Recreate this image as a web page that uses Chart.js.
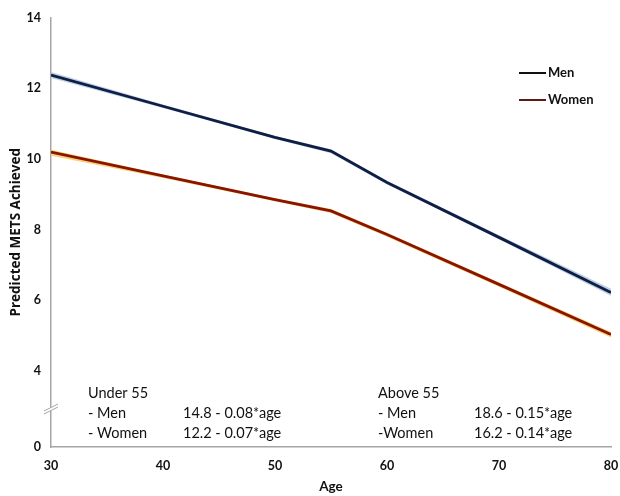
<!DOCTYPE html>
<html>
<head>
<meta charset="utf-8">
<script src="https://cdn.jsdelivr.net/npm/chart.js@4/dist/chart.umd.min.js"></script>
<style>
  body { margin: 0; background: #fff; }
  #wrap { width: 620px; height: 496px; }
</style>
</head>
<body>
<div id="wrap"><canvas id="metsChart"></canvas></div>
<script>
const ages = [30, 40, 50, 55, 60, 70, 80];
const menMets = [12.37, 11.49, 10.61, 10.22, 9.33, 7.78, 6.22];
const menUpper = [12.46, 11.54, 10.65, 10.27, 9.38, 7.84, 6.33];
const menLower = [12.29, 11.44, 10.56, 10.16, 9.28, 7.73, 6.13];
const womenMets = [10.19, 9.52, 8.85, 8.53, 7.86, 6.45, 5.03];
const womenUpper = [10.26, 9.56, 8.89, 8.58, 7.91, 6.5, 5.1];
const womenLower = [10.09, 9.46, 8.8, 8.47, 7.8, 6.38, 4.95];

const xTicks = [30, 40, 50, 60, 70, 80];
// y axis is broken: the bottom tick stands for 0
const yTicks = [1.85, 4, 6, 8, 10, 12, 14];
const yTickLabels = ['0', '4', '6', '8', '10', '12', '14'];

const legendNames = ['Men', 'Women'];
const legendColors = ['#111111', '#5b1a12'];

const notes = [
    { text: 'Under 55', x: 88, y: 393 },
    { text: '- Men', x: 88, y: 413 },
    { text: '14.8 - 0.08*age', x: 183, y: 413 },
    { text: '- Women', x: 88, y: 433 },
    { text: '12.2 - 0.07*age', x: 183, y: 433 },
    { text: 'Above 55', x: 378, y: 393 },
    { text: '- Men', x: 378, y: 413 },
    { text: '18.6 - 0.15*age', x: 474, y: 413 },
    { text: '-Women', x: 378, y: 433 },
    { text: '16.2 - 0.14*age', x: 474, y: 433 }
];

const FONT = 'Lato, "Open Sans", sans-serif';

function pts(vals) {
    return ages.map((a, i) => ({ x: a, y: vals[i] }));
}

const extras = {
    id: 'extras',
    afterDraw(chart) {
        const c = chart.ctx;
        const area = chart.chartArea;
        c.save();

        // axis break
        const by = 408;
        c.fillStyle = '#fff';
        c.beginPath();
        c.moveTo(area.left - 7, by + 3);
        c.lineTo(area.left + 7, by - 4);
        c.lineTo(area.left + 7, by - 1);
        c.lineTo(area.left - 7, by + 6);
        c.closePath();
        c.fill();
        c.strokeStyle = '#a6a6a6';
        c.lineWidth = 1;
        c.beginPath();
        c.moveTo(area.left - 7, by + 3);
        c.lineTo(area.left + 7, by - 4);
        c.moveTo(area.left - 7, by + 6);
        c.lineTo(area.left + 7, by - 1);
        c.stroke();

        // legend
        c.font = 'bold 13px ' + FONT;
        c.textBaseline = 'middle';
        legendNames.forEach((name, i) => {
            const ly = 73 + i * 27;
            c.strokeStyle = legendColors[i];
            c.lineWidth = 2;
            c.beginPath();
            c.moveTo(519, ly);
            c.lineTo(546, ly);
            c.stroke();
            c.fillStyle = '#111';
            c.fillText(name, 548, ly);
        });

        // equations
        c.font = '14.5px ' + FONT;
        c.fillStyle = '#111';
        notes.forEach(n => c.fillText(n.text, n.x, n.y));
        c.restore();
    }
};

new Chart(document.getElementById('metsChart'), {
    type: 'line',
    data: {
        datasets: [
            { label: 'menUpper', data: pts(menUpper), borderWidth: 0, pointRadius: 0, fill: false, order: 3 },
            { label: 'menLower', data: pts(menLower), borderWidth: 0, pointRadius: 0, fill: '-1', backgroundColor: '#b9cfe4', order: 3 },
            { label: 'womenUpper', data: pts(womenUpper), borderWidth: 0, pointRadius: 0, fill: false, order: 3 },
            { label: 'womenLower', data: pts(womenLower), borderWidth: 0, pointRadius: 0, fill: '-1', backgroundColor: '#f6d27e', order: 3 },
            { label: 'Men', data: pts(menMets), borderColor: '#101d44', borderWidth: 2.8, pointRadius: 0, fill: false, order: 1 },
            { label: 'Women', data: pts(womenMets), borderColor: '#8a1400', borderWidth: 2.8, pointRadius: 0, fill: false, order: 1 }
        ]
    },
    options: {
        responsive: true,
        maintainAspectRatio: false,
        animation: false,
        layout: { padding: { top: 10, right: 9, left: 0, bottom: 0 } },
        plugins: {
            legend: { display: false },
            tooltip: { enabled: false }
        },
        scales: {
            x: {
                type: 'linear',
                min: 30,
                max: 80,
                afterBuildTicks: s => { s.ticks = xTicks.map(v => ({ value: v })); },
                afterFit: s => { s.height = 49; s.paddingLeft = 0; s.paddingRight = 0; },
                grid: { display: false, drawTicks: false },
                border: { color: '#a6a6a6', width: 1.5 },
                ticks: { padding: 11, color: '#111', font: { family: FONT, size: 12.5, weight: 'bold' } },
                title: { display: true, text: 'Age', color: '#111', padding: { top: 4, bottom: 1 }, font: { family: FONT, size: 13.5, weight: 'bold' } }
            },
            y: {
                type: 'linear',
                min: yTicks[0],
                max: 14,
                afterBuildTicks: s => { s.ticks = yTicks.map(v => ({ value: v })); },
                afterFit: s => { s.width = 51; },
                grid: { display: false, drawTicks: false },
                border: { color: '#a6a6a6', width: 1.5 },
                ticks: {
                    padding: 10,
                    color: '#111',
                    font: { family: FONT, size: 12.5, weight: 'bold' },
                    callback: (v, i) => yTickLabels[i]
                },
                title: { display: true, text: 'Predicted METS Achieved', color: '#111', padding: { top: 8, bottom: 2 }, font: { family: '"Open Sans", sans-serif', size: 13.5, weight: 'bold' } }
            }
        }
    },
    plugins: [extras]
});
</script>
</body>
</html>
